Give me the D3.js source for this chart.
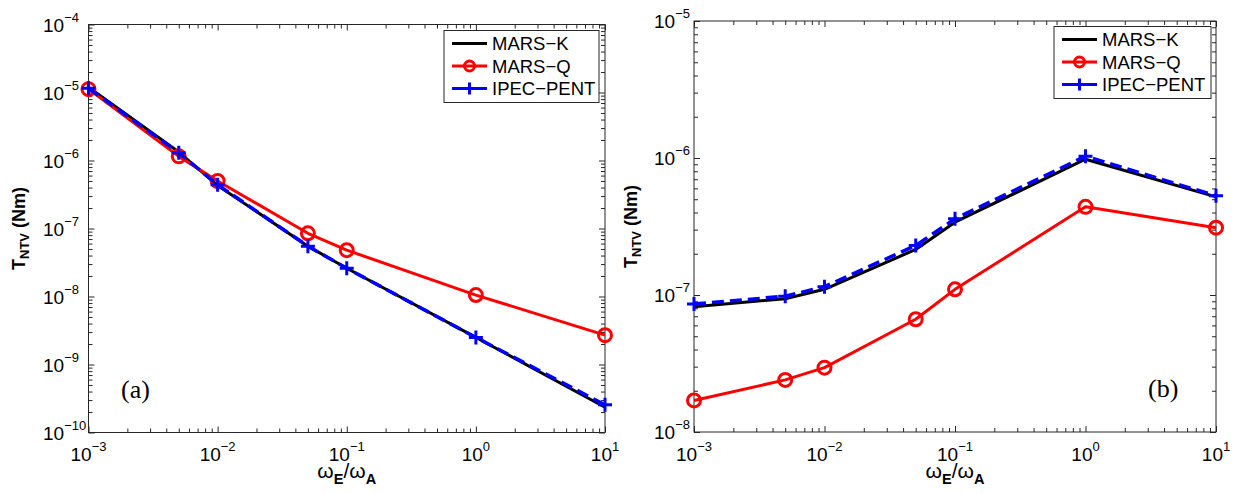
<!DOCTYPE html>
<html>
<head>
<meta charset="utf-8">
<script src="https://cdn.jsdelivr.net/npm/d3@7"></script>
<style>
  body { margin: 0; background: #fff; }
  svg { display: block; font-family: "Liberation Sans", Arial, sans-serif; }
</style>
</head>
<body>
<div id="graph"></div>
<script>
// ---- data ----
var omega = [0.001, 0.005, 0.01, 0.05, 0.1, 1, 10]
var seriesNames = ['MARS\u2212K', 'MARS\u2212Q', 'IPEC\u2212PENT']

// panel (a)
var marsK_a = [1.2e-5, 1.33e-6, 4.3e-7, 5.5e-8, 2.6e-8, 2.5e-9, 2.35e-10]
var marsQ_a = [1.12e-5, 1.15e-6, 5.0e-7, 8.5e-8, 4.8e-8, 1.05e-8, 2.7e-9]
var ipec_a  = [1.15e-5, 1.3e-6, 4.4e-7, 5.5e-8, 2.6e-8, 2.5e-9, 2.55e-10]

// panel (b)
var marsK_b = [8.2e-8, 9.4e-8, 1.1e-7, 2.15e-7, 3.4e-7, 9.8e-7, 5.2e-7]
var marsQ_b = [1.7e-8, 2.4e-8, 2.95e-8, 6.65e-8, 1.1e-7, 4.4e-7, 3.1e-7]
var ipec_b  = [8.6e-8, 9.8e-8, 1.15e-7, 2.3e-7, 3.6e-7, 1.03e-6, 5.3e-7]

var xTickExp = [-3, -2, -1, 0, 1]
var yTickExp_a = [-10, -9, -8, -7, -6, -5, -4]
var yTickExp_b = [-8, -7, -6, -5]

var width = 1245, height = 493
var svg = d3.select('#graph').append('svg')
    .attr('width', width)
    .attr('height', height)

var panels = [
  {left: 88.5, right: 605, top: 24.5, bottom: 432.5, ydom: [1e-10, 1e-4], yexp: yTickExp_a,
   data: [marsK_a, marsQ_a, ipec_a], tag: '(a)', tagX: 121, tagY: 398, ylabX: 43, ytitleX: 25,
   legend: {x: 444, y: 30.5, w: 155, h: 72}},
  {left: 694, right: 1216, top: 21, bottom: 432, ydom: [1e-8, 1e-5], yexp: yTickExp_b,
   data: [marsK_b, marsQ_b, ipec_b], tag: '(b)', tagX: 1148, tagY: 397, ylabX: 654, ytitleX: 637,
   legend: {x: 1054, y: 26.5, w: 157, h: 72}}
]

var colors = ['#000', '#ff0000', '#0000ff']
var axisColor = '#262626'

function isPow(v){ return Math.abs(Math.log10(v) - Math.round(Math.log10(v))) < 1e-9 }

function powLabel(sel, exp, anchorX, baseY, supDy){
  var t = sel.append('text').attr('x', anchorX).attr('y', baseY)
      .attr('font-size', 19).attr('fill', '#000')
  t.append('tspan').text('10')
  t.append('tspan').attr('dy', supDy).attr('font-size', 13)
    .text((exp < 0 ? '\u2212' : '') + Math.abs(exp))
  return t
}

function marker(g, i, cx, cy, big){
  if (i == 1){
    g.append('circle').attr('cx', cx).attr('cy', cy).attr('r', big ? 6.5 : 5)
      .attr('fill', 'none').attr('stroke', colors[1]).attr('stroke-width', 3)
  } else if (i == 2){
    var a = big ? 7 : 6
    g.append('path').attr('d', 'M' + (cx - a) + ',' + cy + 'H' + (cx + a) + 'M' + cx + ',' + (cy - a) + 'V' + (cy + a))
      .attr('stroke', colors[2]).attr('stroke-width', 3).attr('fill', 'none')
  }
}

panels.forEach(function(p){
  var x = d3.scaleLog().domain([1e-3, 10]).range([p.left, p.right])
  var y = d3.scaleLog().domain(p.ydom).range([p.bottom, p.top])
  var g = svg.append('g')

  var xMaj = x.ticks().filter(isPow), xMin = x.ticks().filter(function(d){ return !isPow(d) })
  var yMaj = y.ticks().filter(isPow), yMin = y.ticks().filter(function(d){ return !isPow(d) })

  // ticks on all four sides, pointing inward
  function ticks(axisFn, scale, vals, len, tx, ty){
    var a = g.append('g').attr('transform', 'translate(' + tx + ',' + ty + ')')
      .call(axisFn(scale).tickValues(vals).tickSize(-len).tickFormat(''))
    a.select('.domain').remove()
    a.selectAll('line').attr('stroke', axisColor).attr('stroke-width', 1)
  }
  ticks(d3.axisBottom, x, xMaj, 6, 0, p.bottom)
  ticks(d3.axisBottom, x, xMin, 4, 0, p.bottom)
  ticks(d3.axisTop, x, xMaj, 6, 0, p.top)
  ticks(d3.axisTop, x, xMin, 4, 0, p.top)
  ticks(d3.axisLeft, y, yMaj, 6, p.left, 0)
  ticks(d3.axisLeft, y, yMin, 4, p.left, 0)
  ticks(d3.axisRight, y, yMaj, 6, p.right, 0)
  ticks(d3.axisRight, y, yMin, 4, p.right, 0)

  g.append('rect')
    .attr('x', p.left).attr('y', p.top)
    .attr('width', p.right - p.left).attr('height', p.bottom - p.top)
    .attr('fill', 'none').attr('stroke', axisColor).attr('stroke-width', 1)

  // tick labels
  xTickExp.forEach(function(e){
    var t = powLabel(g, e, x(Math.pow(10, e)), 461, -10)
    t.attr('text-anchor', 'middle')
  })
  p.yexp.forEach(function(e){
    powLabel(g, e, p.ylabX, y(Math.pow(10, e)) + 7, -10)
  })

  // axis titles
  var xt = g.append('text')
    .attr('x', (p.left + p.right) / 2).attr('y', 478)
    .attr('text-anchor', 'middle').attr('font-size', 21)
  xt.append('tspan').text('\u03c9')
  xt.append('tspan').attr('dy', 6).attr('font-size', 14.5).attr('font-weight', 'bold').text('E')
  xt.append('tspan').attr('dy', -6).text('/\u03c9')
  xt.append('tspan').attr('dy', 6).attr('font-size', 14.5).attr('font-weight', 'bold').text('A')

  var cy = (p.top + p.bottom) / 2
  var yt = g.append('text')
    .attr('transform', 'translate(' + p.ytitleX + ',' + cy + ') rotate(-90)')
    .attr('text-anchor', 'middle').attr('font-size', 18).attr('font-weight', 'bold')
  yt.append('tspan').text('T')
  yt.append('tspan').attr('dy', 4).attr('font-size', 13).text('NTV')
  yt.append('tspan').attr('dy', -4).text(' (Nm)')

  // series
  var line = d3.line()
    .x(function(d){ return x(d[0]) })
    .y(function(d){ return y(d[1]) })

  p.data.forEach(function(vals, i){
    var pts = omega.map(function(o, k){ return [o, vals[k]] })
    g.append('path').attr('d', line(pts))
      .attr('fill', 'none').attr('stroke', colors[i])
      .attr('stroke-width', i == 2 ? 3.5 : 3)
      .attr('stroke-dasharray', i == 2 ? '12,6' : null)
      .attr('stroke-linejoin', 'round')
    pts.forEach(function(d){ marker(g, i, x(d[0]), y(d[1]), true) })
  })

  // panel tag
  g.append('text').attr('x', p.tagX).attr('y', p.tagY)
    .attr('font-family', '"Liberation Serif", "Times New Roman", serif')
    .attr('font-size', 26).text(p.tag)

  // legend
  var L = p.legend
  var lg = g.append('g')
  lg.append('rect').attr('x', L.x).attr('y', L.y).attr('width', L.w).attr('height', L.h)
    .attr('fill', '#fff').attr('stroke', axisColor).attr('stroke-width', 1)
  seriesNames.forEach(function(name, i){
    var ly = L.y + 13 + i * 22.5
    var x0 = L.x + 8, x1 = L.x + 43
    lg.append('line').attr('x1', x0).attr('x2', x1).attr('y1', ly).attr('y2', ly)
      .attr('stroke', colors[i]).attr('stroke-width', 3)
    marker(lg, i, (x0 + x1) / 2, ly, false)
    lg.append('text').attr('x', L.x + 48).attr('y', ly + 6.5)
      .attr('font-size', 18.5).text(name)
  })
})
</script>
</body>
</html>
